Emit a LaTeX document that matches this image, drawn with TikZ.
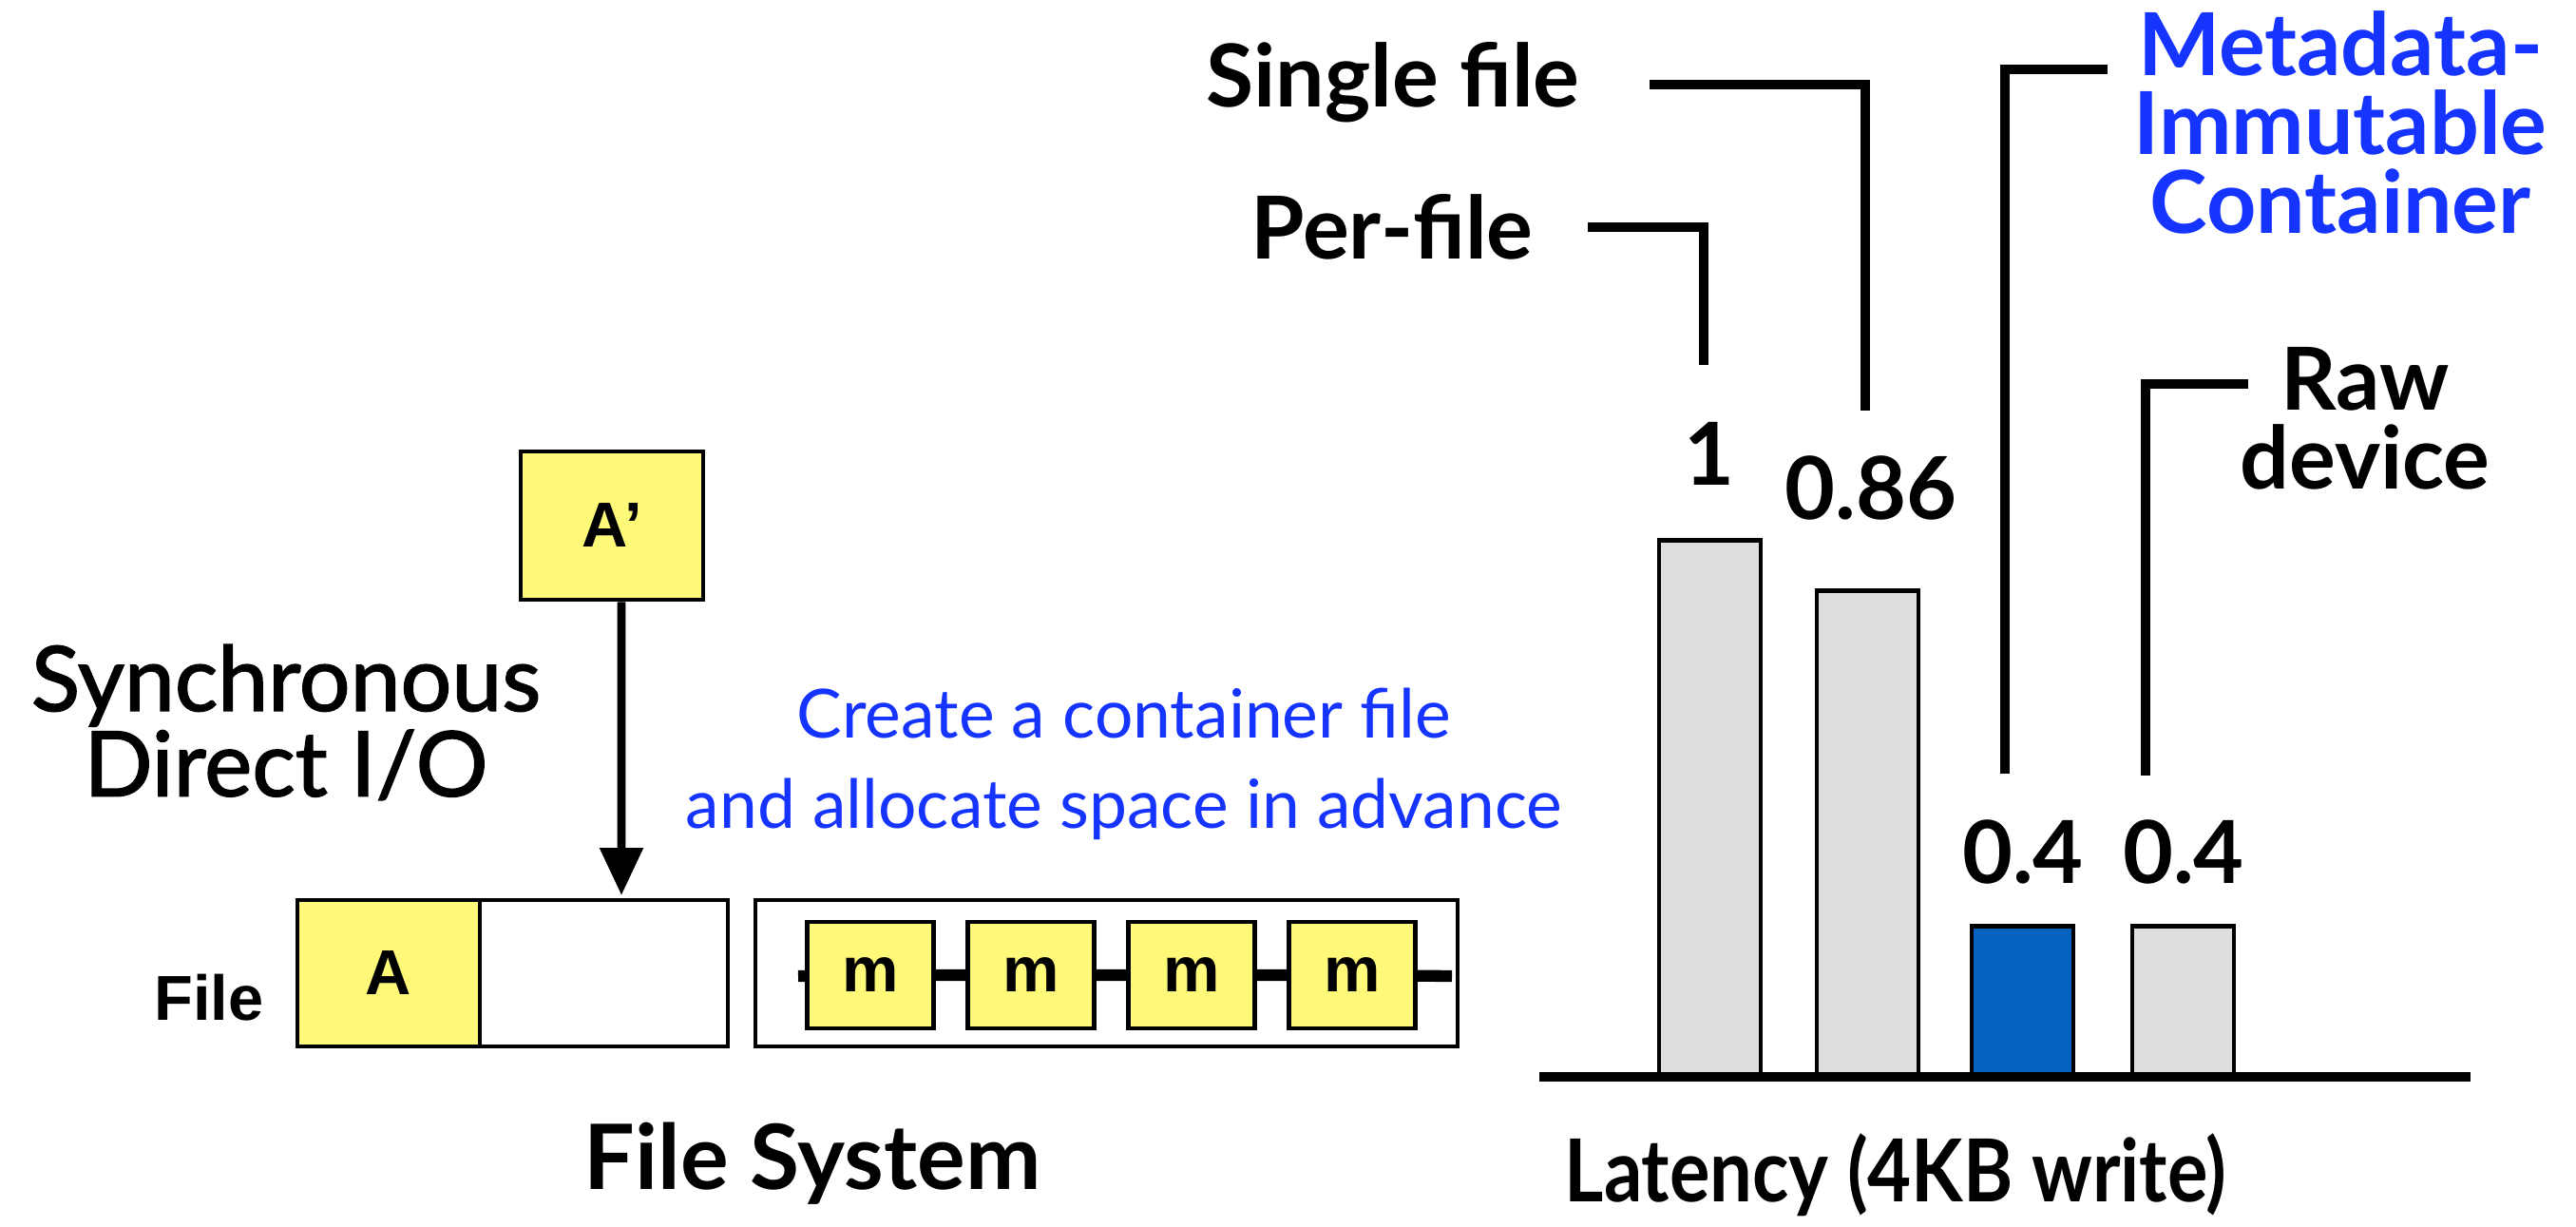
\documentclass[tikz,border=0pt]{standalone}
\usepackage{fontspec}
\setmainfont{Lato}
\newfontfamily\helv{Liberation Sans}
\newfontfamily\medfont{Lato}[BoldFont={*}, BoldFeatures={FakeBold=1.6}]
\usetikzlibrary{arrows.meta,positioning}
\definecolor{boxyellow}{RGB}{255,249,122}
\definecolor{bargray}{RGB}{220,221,223}
\definecolor{barblue}{RGB}{5,99,192}
\definecolor{txtblue}{RGB}{22,52,255}
\tikzset{
    block/.style = {draw, rectangle, line width=1.4pt, inner sep=0pt,
        font=\helv\bfseries\fontsize{19}{19}\selectfont},
    yblock/.style = {block, fill=boxyellow},
    bar/.style = {draw, rectangle, line width=1.3pt, anchor=south,
        minimum width=1.07cm, inner sep=0pt},
    lead/.style = {draw, line width=3pt},
    lbl/.style = {font=\bfseries\fontsize{26}{23.6}\selectfont, align=center, inner sep=0pt},
    val/.style = {font=\bfseries\fontsize{26}{26}\selectfont, anchor=base, inner sep=0pt}
}
\begin{document}
\begin{tikzpicture}
\useasboundingbox (0,0) rectangle (27.11,-12.90);
% file system
\node[yblock, minimum width=1.92cm, minimum height=1.56cm] (ap) at (6.44,-5.53) {A’};
\node[yblock, minimum width=1.92cm, minimum height=1.54cm] (a) at (4.09,-10.24) {A};
\node[block, minimum width=2.61cm, minimum height=1.54cm] (free) at (6.355,-10.24) {};
\node[block, minimum width=7.39cm, minimum height=1.54cm] (cont) at (11.645,-10.24) {};
\foreach \i in {1,...,4}
    \node[yblock, minimum width=1.33cm, minimum height=1.12cm] (m\i) at ({9.16+1.69*(\i-1)},-10.26) {m};
\coordinate (c0) at (8.40,-10.27);
\coordinate (c5) at (15.28,-10.27);
\draw [line width=3.5pt] (c0) -- (m1) (m1) -- (m2) (m2) -- (m3) (m3) -- (m4) (m4) -- (c5);
\coordinate (tip) at (6.54,-9.42);
\draw [line width=2.5pt, -{Triangle[length=5mm,width=4.4mm]}] ([xshift=1mm]ap.south) -- (tip);
\node[font=\helv\bfseries\fontsize{19}{19}\selectfont] (filelbl) at (2.20,-10.50) {File};
\node[font=\medfont\bfseries\fontsize{27}{24.2}\selectfont, align=center] (sync) at (3.01,-7.60) {Synchronous\\Direct I/O};
\node[text=txtblue, font=\fontsize{20.3}{27}\selectfont, align=center] (note) at (11.83,-8.04)
    {Create a container file\\and allocate space in advance};
\node[font=\bfseries\fontsize{27}{27}\selectfont] (fs) at (8.55,-12.24) {File System};
% latency chart
\coordinate (ax0) at (16.20,-11.33);
\coordinate (ax1) at (26.00,-11.33);
\node[bar, fill=bargray, minimum height=5.62cm] (bar1) at (17.995,-11.33) {};
\node[bar, fill=bargray, minimum height=5.09cm] (bar2) at (19.655,-11.33) {};
\node[bar, fill=barblue, minimum height=1.56cm] (bar3) at (21.285,-11.33) {};
\node[bar, fill=bargray, minimum height=1.56cm] (bar4) at (22.975,-11.33) {};
\draw [line width=3pt] (ax0) -- (ax1);
\node[val] (v1) at (17.99,-5.10) {1};
\node[val] (v2) at (19.69,-5.46) {0.86};
\node[val] (v3) at (21.29,-9.29) {0.4};
\node[val] (v4) at (22.98,-9.29) {0.4};
\node[lbl, anchor=base] (perfile) at (14.65,-2.72) {Per-file};
\node[lbl, anchor=base] (single) at (14.66,-1.12) {Single file};
\node[lbl, text=txtblue] (mic) at (24.63,-1.29) {Metadata-\\Immutable\\Container};
\node[lbl] (raw) at (24.89,-4.40) {Raw\\device};
\coordinate (pf0) at (16.71,-2.39);
\coordinate (pf1) at (17.93,-3.84);
\coordinate (sf0) at (17.36,-0.89);
\coordinate (sf1) at (19.63,-4.32);
\coordinate (mc0) at (22.18,-0.73);
\coordinate (mc1) at (21.10,-8.14);
\coordinate (rd0) at (23.66,-4.04);
\coordinate (rd1) at (22.58,-8.16);
\draw [lead] (pf0) -| (pf1);
\draw [lead] (sf0) -| (sf1);
\draw [lead] (mc0) -| (mc1);
\draw [lead] (rd0) -| (rd1);
\node[font=\bfseries\fontsize{26}{26}\selectfont] (lat) at (19.95,-12.36) {\scalebox{0.87}[1]{Latency (4KB write)}};
\end{tikzpicture}
\end{document}
